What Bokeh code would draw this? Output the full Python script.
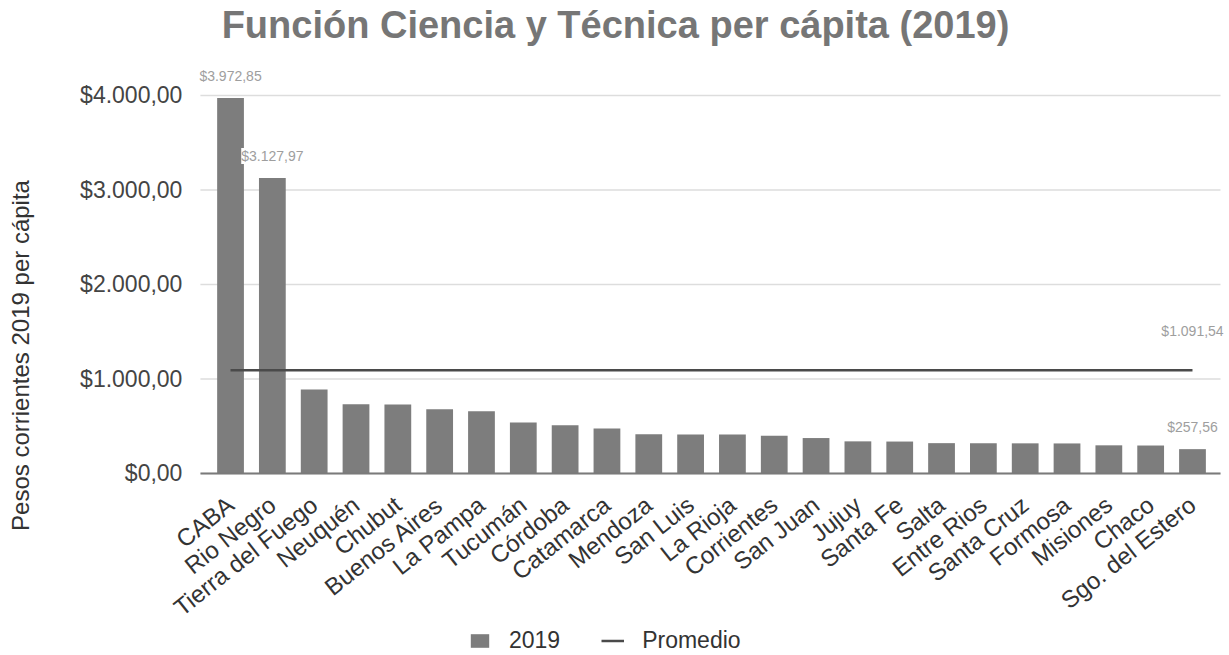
import math
from bokeh.plotting import figure
from bokeh.models import (ColumnDataSource, Range1d, FixedTicker, Label,
                          LabelSet, Legend, LegendItem)
from bokeh.core.properties import value
from bokeh.embed import file_html
from bokeh.resources import INLINE

# ---- data ----
provinces = ["CABA", "Rio Negro", "Tierra del Fuego", "Neuquén", "Chubut",
             "Buenos Aires", "La Pampa", "Tucumán", "Córdoba", "Catamarca",
             "Mendoza", "San Luis", "La Rioja", "Corrientes", "San Juan",
             "Jujuy", "Santa Fe", "Salta", "Entre Rios", "Santa Cruz",
             "Formosa", "Misiones", "Chaco", "Sgo. del Estero"]
values_2019 = [3972.85, 3127.97, 889, 733, 730,
               680, 659, 540, 511, 476,
               416, 413, 412, 400, 375,
               340, 338, 321, 320, 319,
               318, 298, 296, 257.56]
promedio = 1091.54
labeled = ["CABA", "Rio Negro", "Sgo. del Estero"]
y_ticks = [0, 1000, 2000, 3000, 4000]

FONT = "Liberation Sans"
W, H = 1229, 655


def ars(v):
    s = f"{v:,.2f}"
    return "$" + s.replace(",", "X").replace(".", ",").replace("X", ".")


xs = list(range(len(provinces)))
# plot-area extent (in category-index units) and full-canvas ranges
area_x0, area_x1 = -0.72, len(provinces) - 1 + 0.67
p = figure(x_range=Range1d(-5.50, len(provinces) - 1 + 0.885),
           y_range=Range1d(-1926, 5005),
           width=W, height=H, output_backend="svg", toolbar_location=None,
           title=None, min_border=0, min_border_left=0, min_border_right=0,
           min_border_top=0, min_border_bottom=0)
p.outline_line_color = None
p.background_fill_color = "white"
p.border_fill_color = "white"
p.xgrid.grid_line_color = None
p.ygrid.grid_line_color = None

# horizontal gridlines within the plot area
p.segment(x0=[area_x0] * len(y_ticks), x1=[area_x1] * len(y_ticks),
          y0=y_ticks, y1=y_ticks, line_color="#dddddd", line_width=1.5)

src = ColumnDataSource(dict(x=xs, y=values_2019))
bars = p.vbar(x="x", top="y", width=0.64, source=src,
              fill_color="#7d7d7d", line_color=None)

avg_src = ColumnDataSource(dict(x=[xs[0], xs[-1]], y=[promedio, promedio]))
avg_line = p.line(x="x", y="y", source=avg_src, line_color="#4a4a4a",
                  line_width=2.5)

# data labels
lab_x = [provinces.index(c) for c in labeled]
lab_y = [values_2019[i] for i in lab_x]
lab_src = ColumnDataSource(dict(x=lab_x, y=lab_y, text=[ars(v) for v in lab_y]))
p.add_layout(LabelSet(x="x", y="y", text="text", source=lab_src, y_offset=22,
                      text_align="center", text_baseline="middle",
                      text_font=value(FONT), text_font_size=value("14px"),
                      text_color="#9e9e9e", background_fill_color="white"))

avg_lab_src = ColumnDataSource(dict(x=[xs[-1]], y=[promedio],
                                    text=[ars(promedio)]))
p.add_layout(LabelSet(x="x", y="y", text="text", source=avg_lab_src,
                      y_offset=39, text_align="center", text_baseline="middle",
                      text_font=value(FONT), text_font_size=value("14px"),
                      text_color="#9e9e9e"))

# y axis (drawn at the left edge of the plot area)
p.yaxis.fixed_location = area_x0
p.yaxis.ticker = FixedTicker(ticks=y_ticks)
p.yaxis.major_label_overrides = {t: ars(t) for t in y_ticks}
p.yaxis.major_label_text_font = FONT
p.yaxis.major_label_text_font_size = "23px"
p.yaxis.major_label_text_color = "#444444"
p.yaxis.axis_line_color = None
p.yaxis.major_tick_line_color = None
p.yaxis.minor_tick_line_color = None
p.yaxis.major_label_standoff = 12

# x axis (baseline at 0)
p.xaxis.fixed_location = 0
p.xaxis.bounds = (area_x0, area_x1)
p.xaxis.ticker = FixedTicker(ticks=xs)
p.xaxis.major_label_overrides = {i: n for i, n in zip(xs, provinces)}
p.xaxis.axis_line_color = "#7a7a7a"
p.xaxis.axis_line_width = 2
p.xaxis.major_tick_line_color = None
p.xaxis.minor_tick_line_color = None
p.xaxis.major_label_orientation = 0.67
p.xaxis.major_label_text_font = FONT
p.xaxis.major_label_text_font_size = "24px"
p.xaxis.major_label_text_color = "#333333"
p.xaxis.major_label_standoff = 22

# title and y-axis title
p.add_layout(Label(x=615, y=H - 24, x_units="screen", y_units="screen",
                   text="Función Ciencia y Técnica per cápita (2019)",
                   text_align="center", text_baseline="middle",
                   text_font=FONT, text_font_size="38px",
                   text_font_style="bold", text_color="#767676"))
p.add_layout(Label(x=20, y=H - 355, x_units="screen", y_units="screen",
                   angle=math.pi / 2,
                   text="Pesos corrientes 2019 per cápita",
                   text_align="center", text_baseline="middle",
                   text_font=FONT, text_font_size="24px",
                   text_color="#333333"))

legend = Legend(items=[LegendItem(label="2019", renderers=[bars]),
                       LegendItem(label="Promedio", renderers=[avg_line])],
                orientation="horizontal", location=(468, 1),
                glyph_width=23, glyph_height=17, label_standoff=18, spacing=41,
                padding=0, margin=0, border_line_color=None,
                background_fill_alpha=0, label_text_font=FONT,
                label_text_font_size="23px", label_text_color="#333333")
p.add_layout(legend)

open("out.html", "w").write(file_html(p, INLINE))
